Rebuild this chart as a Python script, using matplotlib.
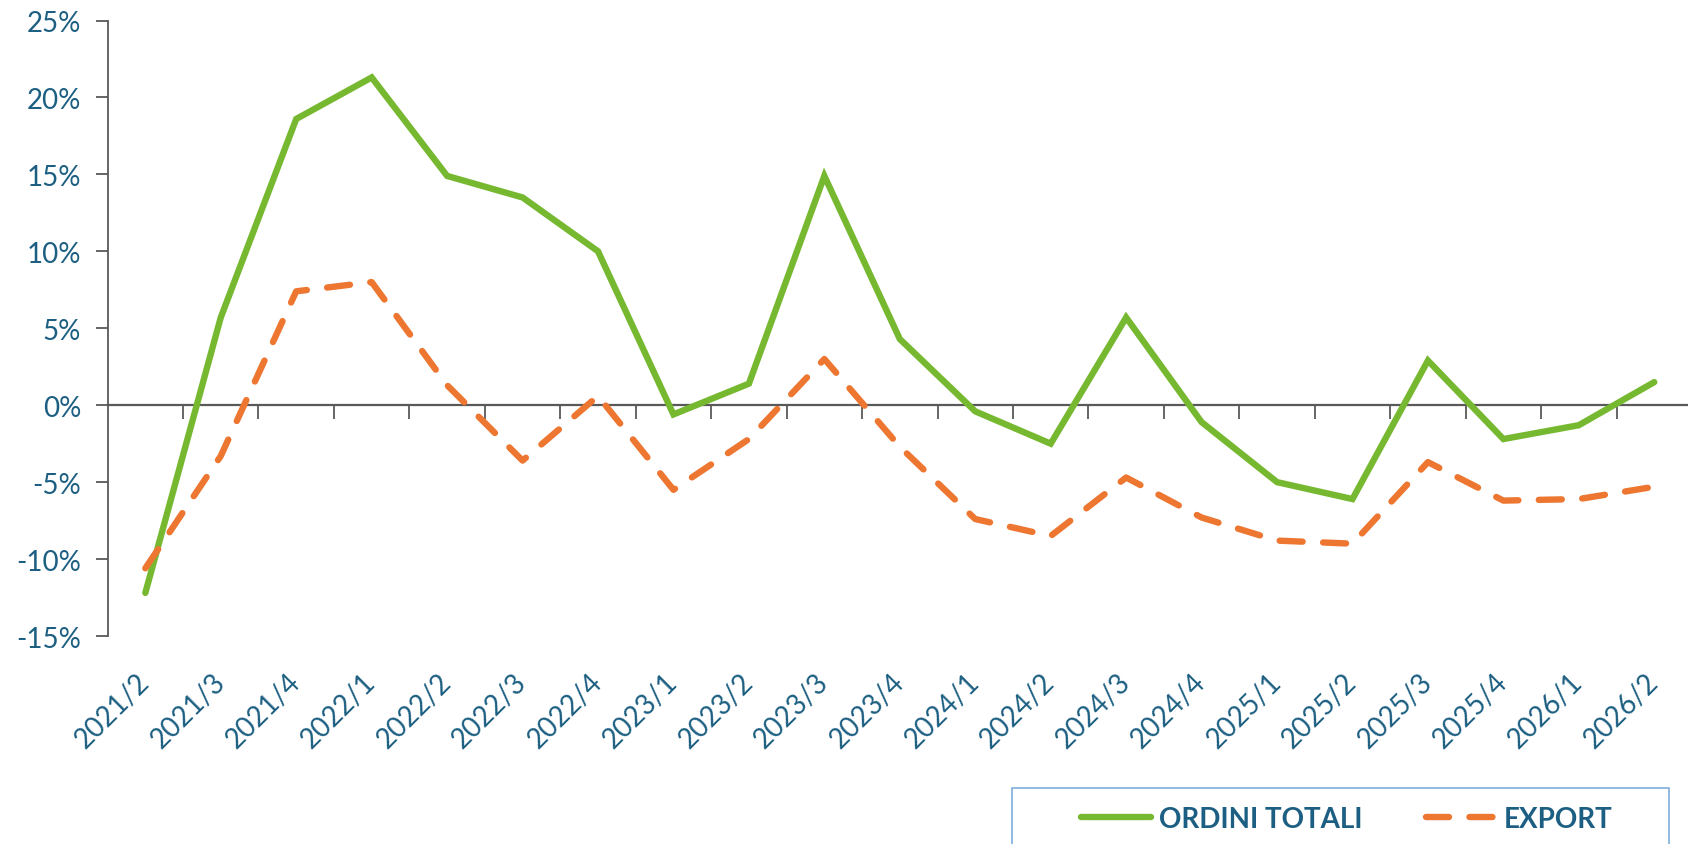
import numpy as np
import matplotlib.pyplot as plt
from matplotlib.patches import Rectangle
from matplotlib.ticker import FixedLocator, FuncFormatter

# quarters on the x axis
quarters = ['2021/2', '2021/3', '2021/4', '2022/1', '2022/2', '2022/3', '2022/4',
            '2023/1', '2023/2', '2023/3', '2023/4', '2024/1', '2024/2', '2024/3',
            '2024/4', '2025/1', '2025/2', '2025/3', '2025/4', '2026/1', '2026/2']

# year on year change, percent
ordini_totali = [-12.2, 5.7, 18.6, 21.3, 14.9, 13.5, 10.0, -0.6, 1.4, 14.9, 4.3,
                 -0.4, -2.5, 5.7, -1.1, -5.0, -6.1, 2.9, -2.2, -1.3, 1.5]
export = [-10.6, -3.3, 7.4, 8.0, 1.3, -3.6, 0.6, -5.5, -2.2, 3.0, -2.7,
          -7.4, -8.5, -4.7, -7.3, -8.8, -9.0, -3.7, -6.2, -6.1, -5.3]

y_ticks = [-15, -10, -5, 0, 5, 10, 15, 20, 25]

text_col = '#1D5F82'
green = '#76B82F'
orange = '#ED7631'
axis_col = '#595959'

plt.rcParams['font.family'] = ['Lato', 'DejaVu Sans']

fig = plt.figure(figsize=(16.88, 8.45), dpi=100)
ax = fig.add_axes([107.6 / 1688, 1 - 637 / 845, (1692 - 107.6) / 1688, (637 - 21.5) / 845])

x = np.arange(len(quarters))
ax.plot(x, ordini_totali, color=green, lw=4.6, solid_capstyle='round',
        solid_joinstyle='miter', label='ORDINI TOTALI', zorder=3)
ax.plot(x, export, color=orange, lw=4.6, linestyle=(0, (3.6, 3.2)),
        dash_capstyle='round', label='EXPORT', zorder=3)

ax.set_xlim(-0.5, len(quarters) - 0.5)
ax.set_ylim(-15, 25)

# y axis
ax.set_yticks(y_ticks)
ax.yaxis.set_major_formatter(FuncFormatter(lambda v, p: f'{v:.0f}%'))
ax.tick_params(axis='y', direction='out', length=9, width=1.3, color=axis_col,
               labelsize=20, labelcolor=text_col, pad=10)
ax.spines['left'].set_color(axis_col)
ax.spines['left'].set_linewidth(1.3)
for s in ['top', 'right', 'bottom']:
    ax.spines[s].set_visible(False)

# category labels under the plot
ax.set_xticks(x)
ax.set_xticklabels(quarters, rotation=45, ha='right', va='center',
                   rotation_mode='anchor')
ax.tick_params(axis='x', length=0, labelsize=20, labelcolor=text_col, pad=30)

# zero line with tick marks between categories
zero = ax.secondary_xaxis(15 / 40)
zero.xaxis.set_major_locator(FixedLocator(np.arange(0.5, len(quarters) - 0.5, 1)))
zero.tick_params(axis='x', direction='out', length=10, width=1.3, color=axis_col,
                 labelbottom=False)
zero.spines['bottom'].set_color(axis_col)
zero.spines['bottom'].set_linewidth(1.6)

# legend box at the bottom, cut by the edge of the image
fig.patches.append(Rectangle((1012 / 1688, -0.05), (1669 - 1012) / 1688, 0.05 + (845 - 789) / 845,
                             transform=fig.transFigure, fill=False,
                             edgecolor='#7FAEDB', linewidth=1.2))
leg = fig.legend(loc='center', bbox_to_anchor=(1347 / 1688, 1 - 820 / 845), ncol=2,
                 frameon=False, fontsize=20, handlelength=2.5, columnspacing=2.3,
                 handletextpad=0.3)
for t in leg.get_texts():
    t.set_color(text_col)
    t.set_fontweight('bold')

fig.savefig('out.png', dpi=100)
